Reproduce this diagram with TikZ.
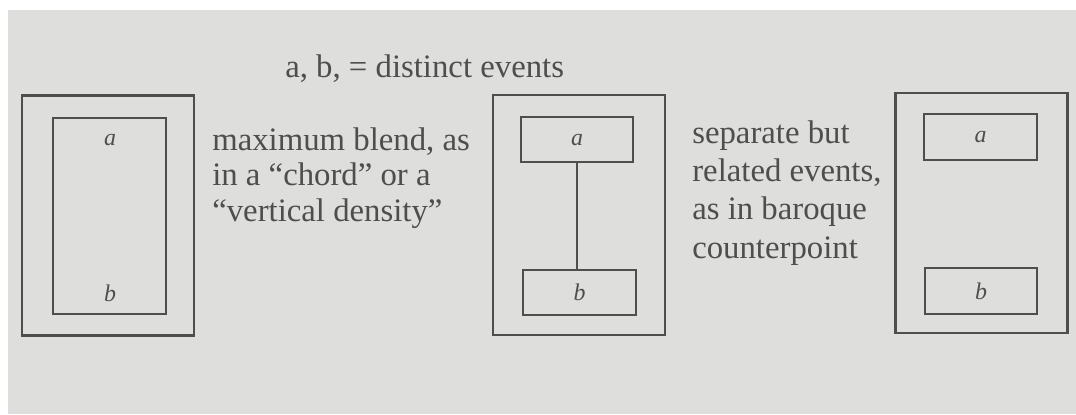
\documentclass[tikz,border=0pt]{standalone}
\usepackage{fontspec}
\setmainfont{Liberation Serif}
\usetikzlibrary{positioning}
\definecolor{paper}{RGB}{222,222,221}
\definecolor{ink}{RGB}{78,78,78}

\begin{document}
\begin{tikzpicture}[
    x=0.025cm,y=-0.025cm,
    frame/.style={draw=ink,line width=1.5pt,inner sep=0pt},
    outerbox/.style={frame,minimum width=4.3cm,minimum height=6.0cm},
    eventbox/.style={frame,minimum width=2.82cm,minimum height=1.13cm,font=\fontsize{17}{20}\selectfont\itshape,text=ink},
    evlabel/.style={inner sep=0pt,font=\fontsize{17}{20}\selectfont\itshape,text=ink},
    caption/.style={inner sep=0pt,align=left,text=ink,font=\fontsize{23.3}{25.2}\selectfont},
    link/.style={draw=ink,line width=1.5pt}
]
% page and paper
\useasboundingbox (0,0) rectangle (1076,414);
\fill[white] (0,0) rectangle (1076,414);
\fill[paper] (8,10) rectangle (1076,414);

\node[caption,anchor=base west] (legend) at (285,77) {a, b, = distinct events};

% maximum blend
\node[outerbox] (blendout) at (108,215.5) {};
\node[frame,minimum width=2.83cm,minimum height=4.9cm] (blendin) at (109.5,216) {};
\node[evlabel] (blenda) at (110,140) {a};
\node[evlabel] (blendb) at (110,293) {b};
% base anchor sits on the last line
\node[caption,anchor=base west] (blendtext) at (212,221)
    {maximum blend, as\\in a ``chord'' or a\\``vertical density''};

% separate but related
\node[outerbox] (relout) at (579,215) {};
\node[eventbox] (rela) at (577,139.5) {a};
\node[eventbox] (relb) at (579.5,292.5) {b};
\draw[link] (rela) -- (rela |- relb.north);
\node[caption,anchor=base west,font=\fontsize{23.3}{27.2}\selectfont] (reltext) at (692,258)
    {separate but\\related events,\\as in baroque\\counterpoint};

% fully separate
\node[outerbox] (sepout) at (981.5,213) {};
\node[eventbox] (sepa) at (980.5,137) {a};
\node[eventbox] (sepb) at (981,291) {b};
\end{tikzpicture}
\end{document}
